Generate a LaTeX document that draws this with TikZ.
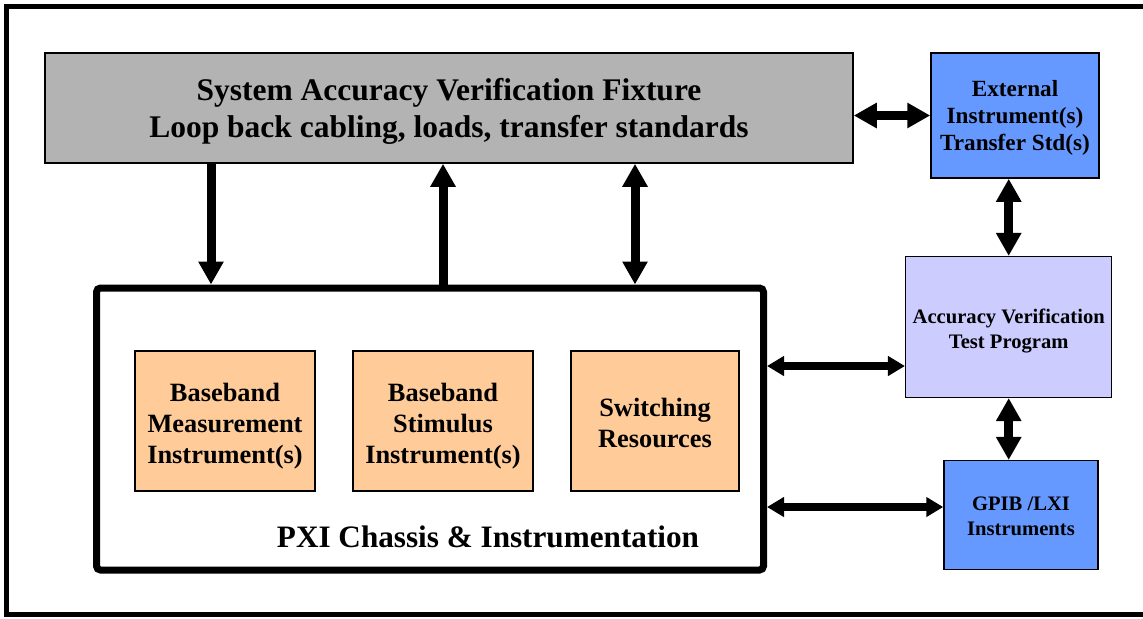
\documentclass[tikz,border=0pt]{standalone}
\usepackage{fontspec}
\setmainfont{Liberation Serif}
\usetikzlibrary{arrows.meta}
\definecolor{fixgray}{HTML}{B3B3B3}
\definecolor{instblue}{HTML}{6699FF}
\definecolor{lav}{HTML}{CCCCFF}
\definecolor{peach}{HTML}{FFCC99}
\newcommand\lowtext[2]{\raisebox{-#1}[\height][\depth]{\begin{tabular}{@{}c@{}}#2\end{tabular}}}
\tikzset{
  box/.style={draw=black, line width=0.75pt, inner sep=0pt},
  big/.style={line width=4.5pt, arrows={Triangle[length=11.5pt,width=12pt]-Triangle[length=11.5pt,width=12pt]}},
  bigone/.style={line width=4.5pt, arrows={-Triangle[length=11.5pt,width=12pt]}},
  mid/.style={line width=4pt, arrows={Triangle[length=8.5pt,width=9.5pt]-Triangle[length=8.5pt,width=9.5pt]}},
}
\begin{document}
\begin{tikzpicture}[x=0.5pt,y=-0.5pt]
\useasboundingbox (0,0) rectangle (1143,618);
% outer frame (right side beyond the picture)
\draw[line width=2.6pt] (1160,6.7) -- (6.5,6.7) -- (6.5,614.5) -- (1160,614.5);

\node[box, fill=fixgray, minimum width=404pt, minimum height=55pt,
      font=\bfseries\fontsize{15.75}{18.5}\selectfont] (fix) at (449,108)
  {\lowtext{1.8pt}{System Accuracy Verification Fixture\\Loop back cabling, loads, transfer standards}};

\node[box, fill=instblue, minimum width=84pt, minimum height=62.5pt,
      font=\bfseries\fontsize{11.6}{13.5}\selectfont] (ext) at (1015,115.5)
  {\lowtext{1.5pt}{External\\Instrument(s)\\Transfer Std(s)}};

\node[box, fill=lav, minimum width=103pt, minimum height=70.3pt,
      font=\bfseries\fontsize{10.3}{12.5}\selectfont] (avtp) at (1008.7,327)
  {\lowtext{2.2pt}{Accuracy Verification\\Test Program}};

\node[box, fill=instblue, minimum width=77pt, minimum height=54.3pt,
      font=\bfseries\fontsize{10.3}{12.5}\selectfont] (gpib) at (1021,515)
  {\lowtext{1.5pt}{GPIB /LXI\\Instruments}};

\node[draw=black, line width=3.5pt, rounded corners=2pt, minimum width=333.5pt,
      minimum height=141pt, inner sep=0pt] (chassis) at (430,429) {};

\node[font=\bfseries\fontsize{15.6}{18.5}\selectfont, inner sep=0pt] (pxi) at (488,537)
  {PXI Chassis \& Instrumentation};

\node[box, fill=peach, minimum width=90pt, minimum height=70pt,
      font=\bfseries\fontsize{13.2}{15.5}\selectfont] (bm) at (225,421)
  {\lowtext{2.5pt}{Baseband\\Measurement\\Instrument(s)}};
\node[box, fill=peach, minimum width=90pt, minimum height=70pt,
      font=\bfseries\fontsize{13.2}{15.5}\selectfont] (bs) at (443,421)
  {\lowtext{2.5pt}{Baseband\\Stimulus\\Instrument(s)}};
\node[box, fill=peach, minimum width=84pt, minimum height=70pt,
      font=\bfseries\fontsize{13.2}{15.5}\selectfont] (sw) at (655,421)
  {\lowtext{2.5pt}{Switching\\Resources}};

% fixture <-> chassis
\draw[bigone] (211,0 |- fix.south) -- (211,0 |- chassis.north);
\draw[bigone] (443,0 |- chassis.north) -- (443,0 |- fix.south);
\draw[big] (635,0 |- fix.south) -- (635,0 |- chassis.north);

% fixture <-> external
\draw[big] (ext.west -| fix.east) -- (ext.west);
% external <-> avtp
\draw[big] (avtp.north |- ext.south) -- (avtp.north);
% avtp <-> gpib
\draw[big] (avtp.south) -- (avtp.south |- gpib.north);

% chassis <-> avtp, gpib
\draw[mid] (chassis.east |- 0,366) -- (avtp.west |- 0,366);
\draw[mid] (chassis.east |- 0,507) -- (gpib.west |- 0,507);
\end{tikzpicture}
\end{document}
